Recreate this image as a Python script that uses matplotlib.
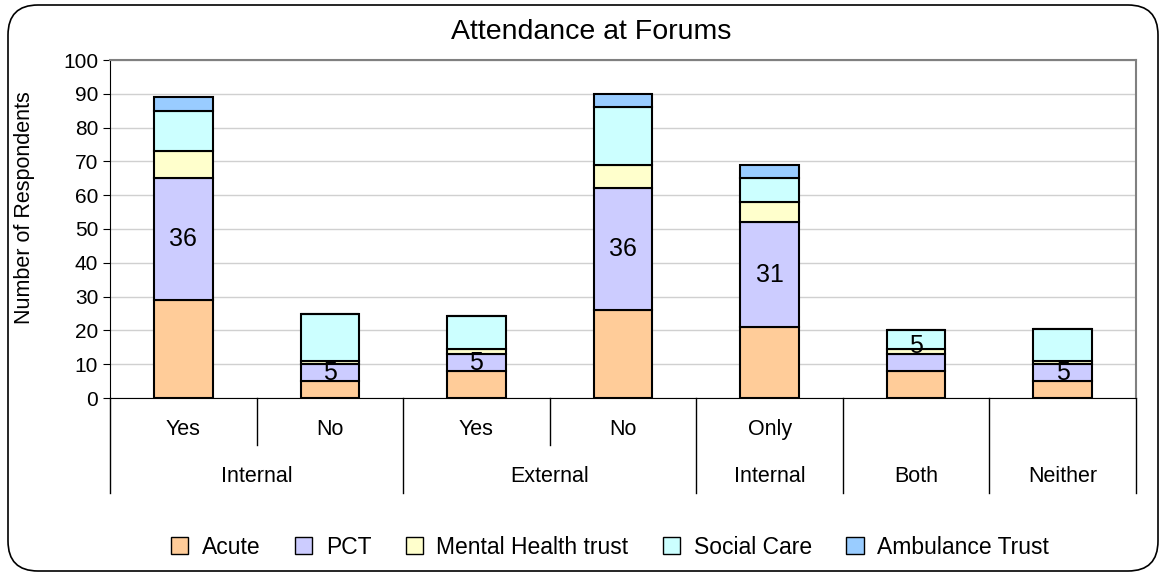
import matplotlib
matplotlib.use('agg')
import matplotlib.pyplot as plt
import numpy as np
from matplotlib.patches import FancyBboxPatch
import matplotlib.transforms as mtransforms

plt.rcParams['font.family'] = ['Liberation Sans', 'DejaVu Sans']

# data
sub_labels = ["Yes", "No", "Yes", "No", "Only", "", ""]
group_labels = ["Internal", "External", "Internal", "Both", "Neither"]
group_spans = [(0, 1), (2, 3), (4, 4), (5, 5), (6, 6)]
series_names = ["Acute", "PCT", "Mental Health trust", "Social Care", "Ambulance Trust"]
acute = [29, 5, 8, 26, 21, 8, 5]
pct = [36, 5, 5, 36, 31, 5, 5]
mental_health = [8, 1, 1.4, 7, 6, 1.4, 1]
social_care = [12, 14, 9.8, 17, 7, 5.6, 9.5]
ambulance = [4, 0, 0, 4, 4, 0, 0]
pct_labels = ["36", "5", "5", "36", "31", "5", "5"]
label_nudge = [0, 0, 0, 0, 0, 5, 0]

colors = ["#FFCC99", "#CCCCFF", "#FFFFCC", "#CCFFFF", "#99CCFF"]

fig = plt.figure(figsize=(11.66, 5.76), dpi=100)
ax = fig.add_axes([110/1166, 178/576, 1026/1166, 338/576])

x = np.arange(len(sub_labels))
bottom = np.zeros(len(x))
all_series = [acute, pct, mental_health, social_care, ambulance]
for vals, col, name in zip(all_series, colors, series_names):
    vals = np.array(vals, dtype=float)
    ax.bar(x, vals, 0.4, bottom=bottom, color=col, edgecolor="black",
           linewidth=1.5, label=name, zorder=3)
    bottom += vals

# PCT value labels
for i in x:
    y = acute[i] + pct[i] / 2 + label_nudge[i]
    ax.text(i, y, pct_labels[i], ha="center", va="center", fontsize=18, zorder=4)

ax.set_xlim(-0.5, len(x) - 0.5)
ax.set_ylim(0, 100)
ax.set_yticks(np.arange(0, 101, 10))
ax.tick_params(axis="y", labelsize=15, length=5, direction="out")
ax.set_xticks([])
ax.grid(axis="y", color="#d0d0d0", linewidth=1, zorder=0)
ax.spines["top"].set_color("#808080")
ax.spines["right"].set_color("#808080")
ax.spines["top"].set_linewidth(1.5)
ax.spines["right"].set_linewidth(1.5)
ax.spines["left"].set_color("black")
ax.spines["bottom"].set_color("black")
fig.text(25/1166, 1 - 208/576, "Number of Respondents", fontsize=15.5,
         rotation=90, ha="center", va="center")
fig.text(591/1166, 1 - 32/576, "Attendance at Forums", fontsize=20.5,
         ha="center", va="center")

# two-level category axis
trans = mtransforms.blended_transform_factory(ax.transData, ax.transAxes)
short_y = -0.139
long_y = -0.281
group_edges = set()
for a, b in group_spans:
    group_edges.add(a - 0.5)
    group_edges.add(b + 0.5)
for i in range(len(x) + 1):
    pos = i - 0.5
    y_end = long_y if pos in group_edges else short_y
    ax.plot([pos, pos], [0, y_end], color="black", linewidth=1,
            transform=trans, clip_on=False)
for i, lab in enumerate(sub_labels):
    ax.text(i, -0.092, lab, ha="center", va="center", fontsize=15.5, transform=trans)
for (a, b), lab in zip(group_spans, group_labels):
    ax.text((a + b) / 2, -0.231, lab, ha="center", va="center", fontsize=15.5,
            transform=trans)

leg = fig.legend(loc="center", bbox_to_anchor=(610/1166, 1 - 547/576), ncol=5,
                 frameon=False, fontsize=16.5, handlelength=0.75, handleheight=0.75,
                 handletextpad=0.6, columnspacing=1.5)
for h in leg.legend_handles:
    h.set_linewidth(1)

border = FancyBboxPatch((0.08, 0.05), 11.5, 5.66,
                        boxstyle="round,pad=0,rounding_size=0.3",
                        transform=fig.dpi_scale_trans, facecolor="none",
                        edgecolor="black", linewidth=1.2)
fig.patches.append(border)

plt.savefig("out.png", dpi=100)
